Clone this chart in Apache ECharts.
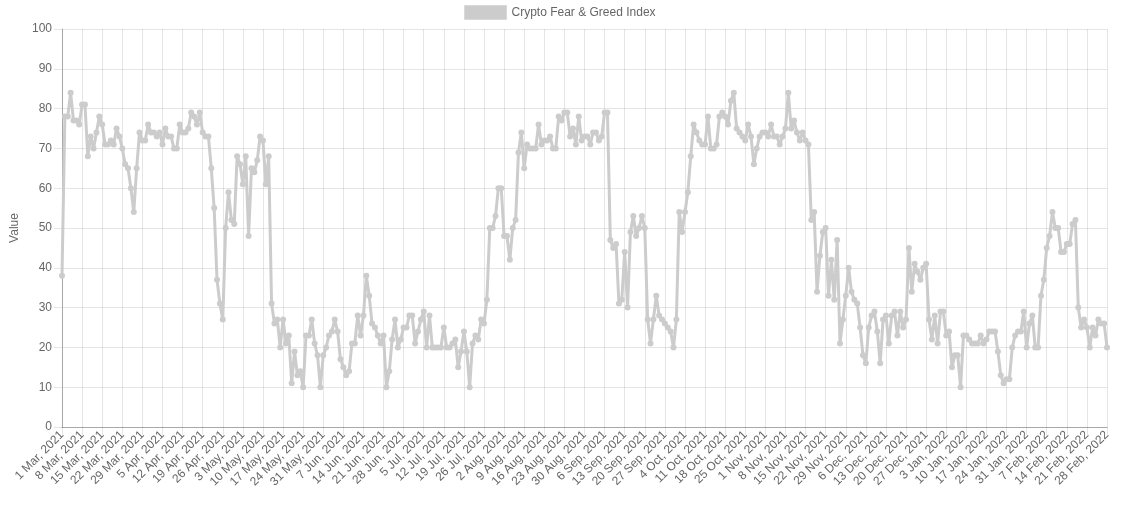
<!DOCTYPE html>
<html>
<head>
<meta charset="utf-8">
<script src="https://cdn.jsdelivr.net/npm/echarts@6/dist/echarts.min.js"></script>
<style>
html,body{margin:0;padding:0;background:#fff;}
#c{width:1135px;height:505px;}
</style>
</head>
<body>
<div id="c"></div>
<script>
// Daily index values, one array per month (1 Mar 2021 .. 28 Feb 2022)
const mar2021 = [38,78,78,84,77,77,76,81,81,68,73,70,74,78,76,71,71,72,71,75,73,70,66,65,60,54,65,74,72,72,76];
const apr2021 = [74,74,73,74,71,75,73,73,70,70,76,74,74,75,79,78,76,79,74,73,73,65,55,37,31,27,50,59,52,51];
const may2021 = [68,66,61,68,48,65,64,67,73,72,61,68,31,26,27,20,27,21,23,11,19,13,14,10,23,23,27,21,18,10,18];
const jun2021 = [20,23,24,27,24,17,15,13,14,21,21,28,23,28,38,33,26,25,23,21,23,10,14,22,27,20,22,25,25,28];
const jul2021 = [28,21,24,27,29,20,28,20,20,20,20,25,20,20,21,22,15,19,24,19,10,21,23,22,27,26,32,50,50,53,60];
const aug2021 = [60,48,48,42,50,52,69,74,65,71,70,70,70,76,71,72,72,73,70,70,78,77,79,79,73,75,71,78,72,73,73];
const sep2021 = [71,74,74,72,73,79,79,47,45,46,31,32,44,30,49,53,48,50,53,50,27,21,27,33,28,27,26,25,24,20];
const oct2021 = [27,54,49,54,59,68,76,74,72,71,71,78,70,70,71,78,79,78,76,82,84,75,74,73,72,76,73,66,70,73,74];
const nov2021 = [74,73,76,73,73,71,73,75,84,75,77,74,72,74,72,71,52,54,34,43,49,50,33,42,32,47,21,27,33,40];
const dec2021 = [34,32,31,25,18,16,25,28,29,24,16,27,28,21,28,29,23,29,25,27,45,34,41,39,37,40,41,27,22,28,21];
const jan2022 = [29,29,23,24,15,18,18,10,23,23,22,21,21,21,23,21,22,24,24,24,19,13,11,12,12,20,23,24,24,29,20];
const feb2022 = [26,28,20,20,33,37,45,48,54,50,50,44,44,46,46,51,52,30,25,27,25,20,25,23,27,26,26,20];

const monthBlocks = [
  {name:'Mar', year:2021, values:mar2021},
  {name:'Apr', year:2021, values:apr2021},
  {name:'May', year:2021, values:may2021},
  {name:'Jun', year:2021, values:jun2021},
  {name:'Jul', year:2021, values:jul2021},
  {name:'Aug', year:2021, values:aug2021},
  {name:'Sep', year:2021, values:sep2021},
  {name:'Oct', year:2021, values:oct2021},
  {name:'Nov', year:2021, values:nov2021},
  {name:'Dec', year:2021, values:dec2021},
  {name:'Jan', year:2022, values:jan2022},
  {name:'Feb', year:2022, values:feb2022}
];

const seriesName = 'Crypto Fear & Greed Index';
const yAxisName = 'Value';

const categories = [];
const values = [];
monthBlocks.forEach(m => {
  m.values.forEach((v, i) => {
    categories.push((i + 1) + ' ' + m.name + ', ' + m.year);
    values.push(v);
  });
});

const FONT = "'Liberation Sans', Arial, Helvetica, sans-serif";
const TXT = '#666';
const GRID = 'rgba(0,0,0,0.1)';
const LINE = 'rgb(204,204,204)';

const chart = echarts.init(document.getElementById('c'), null, {renderer:'canvas'});
chart.setOption({
  animation: false,
  textStyle: {fontFamily: FONT},
  legend: {
    show: true,
    left: 459,
    top: 0,
    icon: 'rect',
    itemWidth: 42,
    itemHeight: 14,
    itemGap: 8,
    textStyle: {color: TXT, fontSize: 12, fontFamily: FONT},
    data: [{name: seriesName, itemStyle: {color: LINE, borderColor: '#d9d9d9', borderWidth: 1}}]
  },
  grid: {left: 62, right: 28, top: 29, bottom: 78, containLabel: false, outerBoundsMode: 'none'},
  xAxis: {
    type: 'category',
    boundaryGap: false,
    data: categories,
    axisLine: {show: true, lineStyle: {color: '#a8a8a8', width: 1}},
    axisTick: {show: true, interval: 6, length: 8, lineStyle: {color: GRID}},
    splitLine: {show: true, interval: 6, lineStyle: {color: GRID, width: 1}},
    axisLabel: {
      interval: 6,
      rotate: 45,
      margin: 6,
      color: TXT,
      fontSize: 12,
      fontFamily: FONT
    }
  },
  yAxis: {
    type: 'value',
    min: 0,
    max: 100,
    interval: 10,
    name: yAxisName,
    nameLocation: 'middle',
    nameRotate: 90,
    nameGap: 40,
    nameTextStyle: {color: TXT, fontSize: 12, fontFamily: FONT},
    axisLine: {show: true, lineStyle: {color: '#a8a8a8', width: 1}},
    axisTick: {show: true, length: 8, lineStyle: {color: GRID}},
    splitLine: {show: true, lineStyle: {color: GRID, width: 1}},
    axisLabel: {color: TXT, fontSize: 12, margin: 10, fontFamily: FONT}
  },
  series: [{
    name: seriesName,
    type: 'line',
    data: values,
    showSymbol: true,
    showAllSymbol: true,
    symbol: 'circle',
    symbolSize: 6,
    itemStyle: {color: LINE},
    lineStyle: {color: LINE, width: 3},
    emphasis: {disabled: true},
    z: 3
  }]
});
</script>
</body>
</html>
